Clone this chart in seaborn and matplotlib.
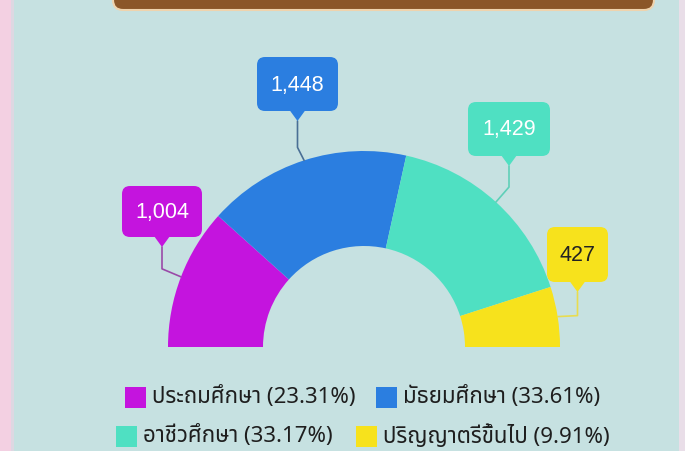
import matplotlib
matplotlib.use("Agg")
import matplotlib.pyplot as plt
import seaborn as sns
from matplotlib import font_manager as fm
from matplotlib.ft2font import FT2Font
from matplotlib.patches import FancyBboxPatch, Polygon, Rectangle
import numpy as np

# ---------------- data ----------------
categories = ["ประถมศึกษา", "มัธยมศึกษา", "อาชีวศึกษา", "ปริญญาตรีขึ้นไป"]
values = [1004, 1448, 1429, 427]
colors = ["#c414de", "#2b7ee0", "#4fe0c2", "#f7e21c"]
label_text_colors = ["white", "white", "white", "#222222"]

# ---------------- fonts ----------------
thai_font = None
preferred = ["Noto Sans Thai", "Noto Sans Thai UI", "Loma", "Garuda", "Tlwg Typo", "Sarabun", "Kinnari"]
cands = []
for f in fm.findSystemFonts():
    try:
        ft = FT2Font(f)
        cm = ft.get_charmap()
        if 0x0E01 in cm and 0x0E28 in cm:
            cands.append(fm.FontProperties(fname=f).get_name())
    except Exception:
        pass
for p in preferred:
    if p in cands:
        thai_font = p
        break
if thai_font is None and cands:
    thai_font = cands[0]

sns.set_theme(style="white")
latin = ["Liberation Sans", "DejaVu Sans"]
plt.rcParams["font.family"] = ([thai_font] if thai_font else []) + latin

W, H = 685, 452
BG = "#c6e1e1"
fig = plt.figure(figsize=(W / 100, H / 100), dpi=100)
fig.patch.set_facecolor(BG)
ax = fig.add_axes([0, 0, 1, 1])
ax.set_facecolor(BG)

def Y(yp):
    return H - yp

# side strips & top bar (decoration)
ax.add_patch(Rectangle((0, 0), 11, H, color="#f3d0e2", zorder=0, lw=0))
ax.add_patch(Rectangle((11, 0), 3, H, color="#ddd8e2", zorder=0, lw=0))
ax.add_patch(Rectangle((679, 0), 6, H, color="#e9dee8", zorder=0, lw=0))
ax.add_patch(FancyBboxPatch((113, Y(11)), 541, 30, boxstyle="round,pad=0,rounding_size=10",
                            fc="#8b5628", ec="#efd3ad", lw=1.5, zorder=1))

# ---------------- semi donut ----------------
total = sum(values)
fracs = [v / (2 * total) for v in values]
cx, cy, R, r_in = 364, Y(348), 196, 101
wedges, _ = ax.pie(fracs, normalize=False, colors=colors, startangle=180, counterclock=False,
                   center=(cx, cy), radius=R,
                   wedgeprops=dict(width=R - r_in, linewidth=0))

ax.set_xlim(0, W)
ax.set_ylim(0, H)
ax.set_aspect("equal")
ax.axis("off")

# ---------------- callouts ----------------
box_centers = [(162, 212.5), (297.5, 85), (509, 130), (577.5, 255.5)]  # pixel coords
box_sizes = [(80, 51), (81, 54), (82, 54), (61, 55)]
knee_drop = [8, 13, 15, 1]
line_colors = ["#9a4aa8", "#4a6f95", "#5fcfb8", "#e8dc50"]
for w, v, col, lcol, tcol, (bx, by), (bw, bh), kd in zip(wedges, values, colors, line_colors,
                                                         label_text_colors, box_centers,
                                                         box_sizes, knee_drop):
    mid = np.deg2rad((w.theta1 + w.theta2) / 2)
    ax_x = w.center[0] + w.r * np.cos(mid)
    ax_y = w.center[1] + w.r * np.sin(mid)
    tip_y = Y(by + bh / 2 + 10)
    knee_y = ax_y + kd
    ax.plot([bx, bx, ax_x], [tip_y, knee_y, ax_y], color=lcol, lw=1.2, zorder=3,
            solid_capstyle="round")
    ax.add_patch(FancyBboxPatch((bx - bw / 2, Y(by + bh / 2)), bw, bh,
                                boxstyle="round,pad=0,rounding_size=8",
                                fc=col, ec="none", zorder=4))
    ax.add_patch(Polygon([(bx - 8, Y(by + bh / 2) + 1), (bx + 8, Y(by + bh / 2) + 1),
                          (bx, tip_y)], closed=True, fc=col, ec="none", zorder=4))
    ax.text(bx, Y(by), f"{v:,}", ha="center", va="center", color=tcol,
            fontsize=15.5, family=latin, zorder=5)

# ---------------- legend ----------------
legend_pos = [(125, 398), (376, 398), (116, 437), (356, 437)]  # square left, row center (pixels)
for cat, v, col, (lx, ly) in zip(categories, values, colors, legend_pos):
    ax.add_patch(Rectangle((lx, Y(ly) - 10.5), 21, 21, fc=col, ec="none", zorder=3))
    pct = 100 * v / total
    ax.text(lx + 27, Y(ly) + 1, f"{cat} ({pct:.2f}%)", ha="left", va="center",
            fontsize=16, color="#1e1e1e", zorder=3)

fig.savefig("out.png", dpi=100, facecolor=BG)
